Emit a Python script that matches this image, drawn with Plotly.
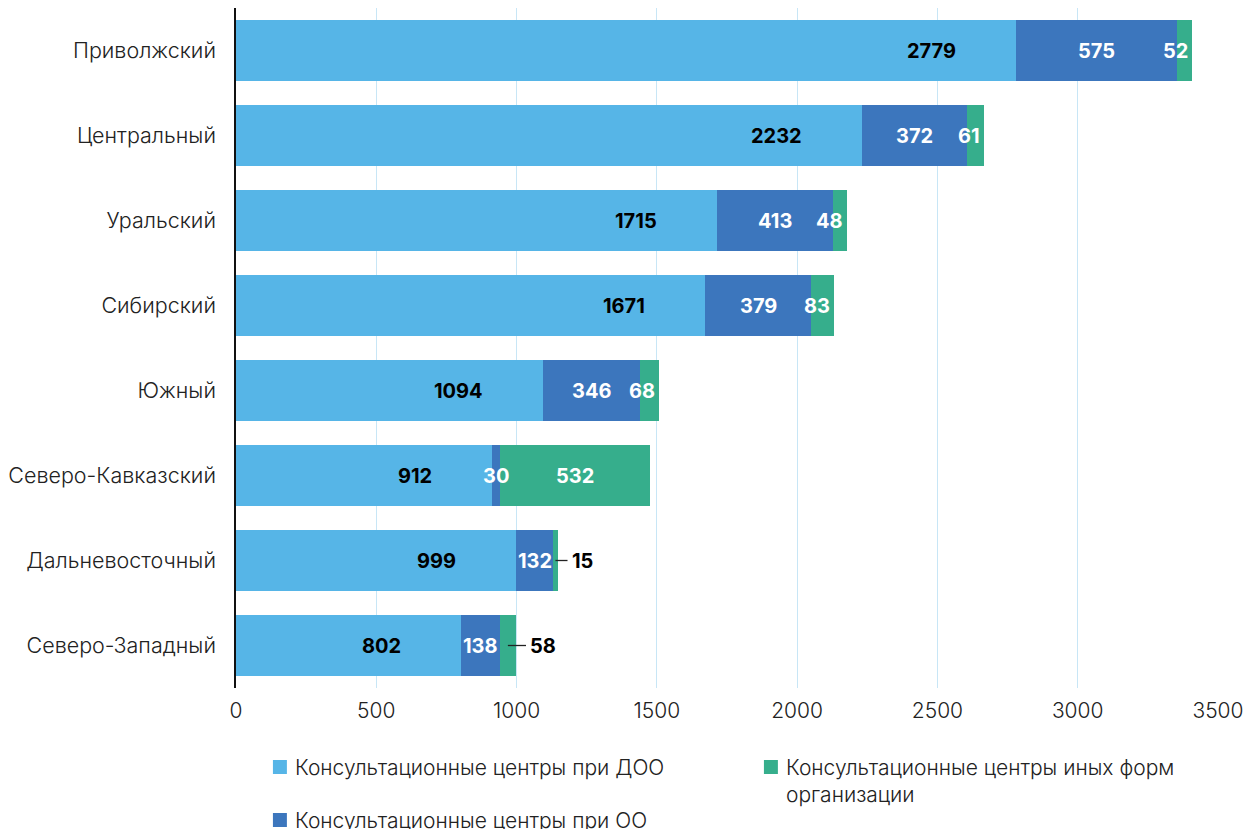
import plotly.graph_objects as go

regions = ["Приволжский", "Центральный", "Уральский", "Сибирский", "Южный",
           "Северо-Кавказский", "Дальневосточный", "Северо-Западный"]
doo = [2779, 2232, 1715, 1671, 1094, 912, 999, 802]
oo = [575, 372, 413, 379, 346, 30, 132, 138]
other = [52, 61, 48, 83, 68, 532, 15, 58]

name_doo = "Консультационные центры при ДОО"
name_oo = "Консультационные центры при ОО"
name_other = "Консультационные центры иных форм<br>организации"

c_doo = "#56b5e7"
c_oo = "#3c76bd"
c_other = "#36ae8c"

outside_other = {"Дальневосточный", "Северо-Западный"}

FONT = "Inter"
OFF = 8  # page body margin offset
W, H = 1256 - OFF, 829 - OFF
L, R, T, B = 234 - OFF, 38, 8 - OFF, 141
XMAX = 3500
px_per_unit = (W - L - R) / XMAX

fig = go.Figure()
for name, vals, col in [(name_doo, doo, c_doo), (name_oo, oo, c_oo), (name_other, other, c_other)]:
    fig.add_trace(go.Bar(y=regions, x=vals, name=name, orientation="h",
                         marker=dict(color=col, line=dict(width=0)), showlegend=False))

ann = []
shapes = []
bold = dict(family=FONT, size=20, weight=700)
for i, r in enumerate(regions):
    ann.append(dict(x=doo[i], y=r, text=str(doo[i]), showarrow=False, xanchor="right",
                    xshift=-58, font=dict(**bold, color="#000000")))
    ann.append(dict(x=doo[i] + oo[i] / 2, y=r, text=str(oo[i]), showarrow=False,
                    xanchor="center", font=dict(**bold, color="#ffffff")))
    end = doo[i] + oo[i] + other[i]
    mid = doo[i] + oo[i] + other[i] / 2
    if r in outside_other:
        shapes.append(dict(type="line", xref="x", yref="y", x0=mid, x1=end + 10 / px_per_unit,
                           y0=i, y1=i, line=dict(color="#222222", width=1.3)))
        ann.append(dict(x=end, y=r, text=str(other[i]), showarrow=False, xanchor="left",
                        xshift=12, font=dict(**bold, color="#000000")))
    elif other[i] * px_per_unit < 40:
        ann.append(dict(x=end, y=r, text=str(other[i]), showarrow=False,
                        xanchor="right", xshift=-2, font=dict(**bold, color="#ffffff")))
    else:
        ann.append(dict(x=mid, y=r, text=str(other[i]), showarrow=False,
                        xanchor="center", font=dict(**bold, color="#ffffff")))

# manual legend (paper coordinates); positions given in page pixels
pw, ph = W - L - R, H - T - B
def px2x(px):
    return (px - OFF - L) / pw
def py2y(py):
    return (H - B - (py - OFF)) / ph

legend_items = [(name_doo, c_doo, 271, 767), (name_other, c_other, 763, 767), (name_oo, c_oo, 271, 820)]
for name, col, lx, ly in legend_items:
    shapes.append(dict(type="rect", xref="paper", yref="paper",
                       x0=px2x(lx), x1=px2x(lx + 14), y0=py2y(ly - 7), y1=py2y(ly + 7),
                       fillcolor=col, line=dict(width=0)))
    ann.append(dict(xref="paper", yref="paper", x=px2x(lx + 20), y=py2y(ly - 14),
                    xanchor="left", yanchor="top", align="left", showarrow=False,
                    text=name, font=dict(family=FONT, size=21, color="#222222", weight=300)))

fig.update_layout(
    width=W, height=H,
    margin=dict(l=L, r=R, t=T, b=B),
    barmode="stack", bargap=0.28,
    plot_bgcolor="white", paper_bgcolor="white",
    font=dict(family=FONT, size=20, color="#222222"),
    xaxis=dict(range=[0, XMAX], dtick=500, tick0=0, showgrid=True, gridcolor="#c8e6f6",
               gridwidth=1.3, zeroline=False, showline=False, ticks="",
               ticklabelstandoff=8, tickfont=dict(size=21, weight=300)),
    yaxis=dict(autorange="reversed", showline=True, linecolor="#111111", linewidth=1.5,
               ticks="", ticklabelstandoff=14, tickfont=dict(size=21.5, weight=300),
               showgrid=False),
    annotations=ann, shapes=shapes,
    showlegend=False,
)

fig.write_html("out.html")
